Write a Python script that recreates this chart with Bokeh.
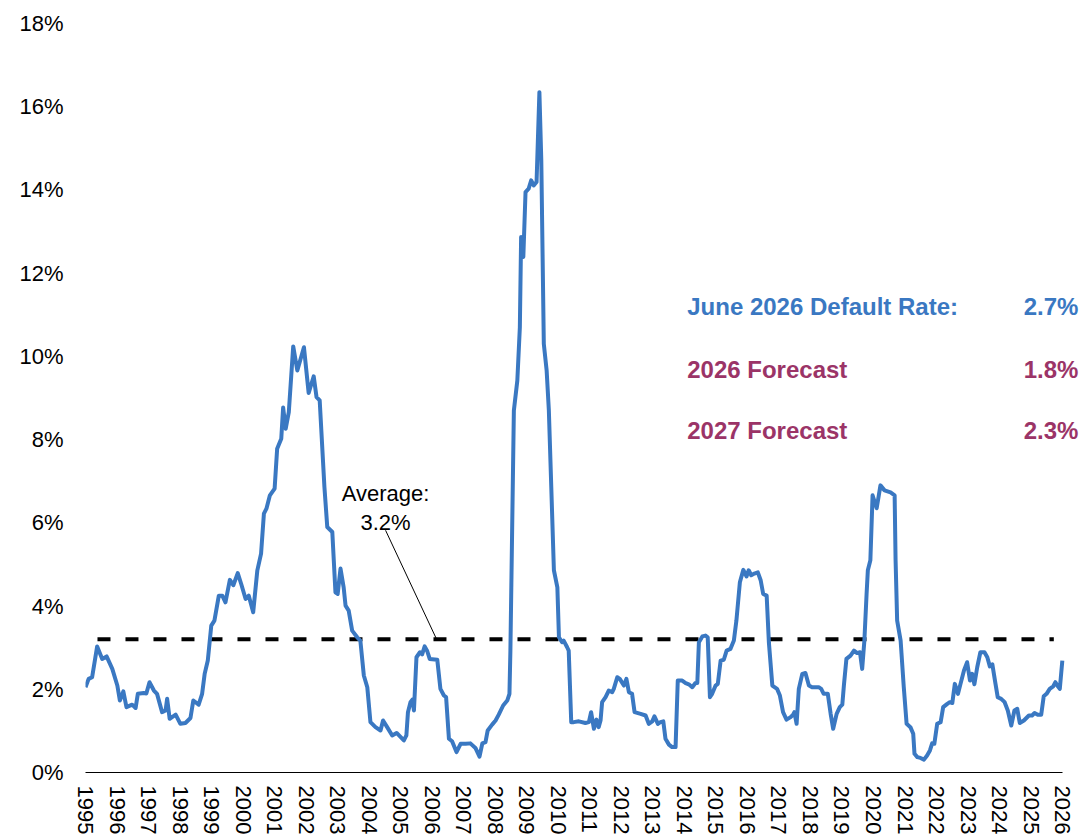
from bokeh.plotting import figure
from bokeh.models import Range1d, FixedTicker, Label
from bokeh.core.properties import value
from bokeh.embed import file_html
from bokeh.resources import INLINE

# ---- data (decimal year, default rate %) ----
years = [1995.00, 1995.10, 1995.21, 1995.37, 1995.53, 1995.67, 1995.85, 1996.01, 1996.09, 1996.20,
         1996.30, 1996.48, 1996.59, 1996.66, 1996.85, 1996.93, 1997.03, 1997.17, 1997.27, 1997.43,
         1997.54, 1997.59, 1997.67, 1997.86, 1998.01, 1998.17, 1998.33, 1998.42, 1998.59, 1998.70,
         1998.78, 1998.88, 1998.99, 1999.09, 1999.23, 1999.34, 1999.44, 1999.58, 1999.69, 1999.83,
         1999.94, 2000.08, 2000.18, 2000.32, 2000.45, 2000.57, 2000.66, 2000.74, 2000.85, 2001.00,
         2001.08, 2001.21, 2001.27, 2001.35, 2001.45, 2001.59, 2001.72, 2001.93, 2002.08, 2002.24,
         2002.33, 2002.43, 2002.58, 2002.67, 2002.83, 2002.93, 2003.00, 2003.09, 2003.19, 2003.25,
         2003.35, 2003.46, 2003.62, 2003.72, 2003.83, 2003.94, 2004.04, 2004.20, 2004.36, 2004.44,
         2004.57, 2004.73, 2004.87, 2005.10, 2005.18, 2005.23, 2005.31, 2005.37, 2005.42, 2005.50,
         2005.61, 2005.68, 2005.76, 2005.84, 2005.92, 2006.16, 2006.26, 2006.37, 2006.44, 2006.53,
         2006.63, 2006.77, 2006.90, 2007.06, 2007.21, 2007.37, 2007.50, 2007.59, 2007.69, 2007.76,
         2007.90, 2008.01, 2008.11, 2008.25, 2008.38, 2008.45, 2008.48, 2008.59, 2008.70, 2008.78,
         2008.82, 2008.89, 2008.96, 2009.06, 2009.14, 2009.22, 2009.31, 2009.40, 2009.46, 2009.54,
         2009.63, 2009.70, 2009.86, 2009.97, 2010.02, 2010.12, 2010.17, 2010.28, 2010.33, 2010.41,
         2010.49, 2010.65, 2010.86, 2010.97, 2011.04, 2011.13, 2011.21, 2011.28, 2011.34, 2011.39,
         2011.50, 2011.60, 2011.71, 2011.76, 2011.87, 2011.95, 2012.08, 2012.16, 2012.24, 2012.34,
         2012.42, 2012.61, 2012.77, 2012.87, 2012.98, 2013.05, 2013.16, 2013.24, 2013.33, 2013.40,
         2013.51, 2013.61, 2013.72, 2013.79, 2013.93, 2014.04, 2014.14, 2014.25, 2014.35, 2014.41,
         2014.46, 2014.57, 2014.67, 2014.74, 2014.81, 2014.88, 2014.99, 2015.06, 2015.15, 2015.25,
         2015.34, 2015.46, 2015.57, 2015.65, 2015.76, 2015.87, 2015.97, 2016.04, 2016.12, 2016.22,
         2016.33, 2016.42, 2016.50, 2016.61, 2016.68, 2016.79, 2016.94, 2017.03, 2017.13, 2017.24,
         2017.37, 2017.45, 2017.49, 2017.56, 2017.63, 2017.74, 2017.84, 2017.95, 2018.05, 2018.26,
         2018.34, 2018.42, 2018.55, 2018.64, 2018.72, 2018.83, 2018.93, 2019.01, 2019.06, 2019.14,
         2019.27, 2019.38, 2019.48, 2019.57, 2019.64, 2019.71, 2019.78, 2019.82, 2019.90, 2019.97,
         2020.10, 2020.22, 2020.35, 2020.54, 2020.67, 2020.70, 2020.75, 2020.86, 2020.96, 2021.05,
         2021.17, 2021.26, 2021.30, 2021.39, 2021.49, 2021.60, 2021.70, 2021.79, 2021.86, 2021.93,
         2022.02, 2022.13, 2022.21, 2022.34, 2022.42, 2022.50, 2022.58, 2022.68, 2022.76, 2022.87,
         2022.97, 2023.06, 2023.13, 2023.20, 2023.29, 2023.39, 2023.52, 2023.61, 2023.69, 2023.77,
         2023.87, 2023.94, 2024.05, 2024.16, 2024.26, 2024.37, 2024.47, 2024.56, 2024.64, 2024.77,
         2024.93, 2025.03, 2025.11, 2025.21, 2025.32, 2025.40, 2025.49, 2025.59, 2025.70, 2025.77,
         2025.83, 2025.91, 2025.99]

rates = [2.05, 2.25, 2.29, 3.03, 2.73, 2.79, 2.49, 2.09, 1.73, 1.95,
         1.57, 1.63, 1.55, 1.89, 1.91, 1.90, 2.17, 1.97, 1.89, 1.45,
         1.49, 1.77, 1.29, 1.39, 1.17, 1.19, 1.31, 1.73, 1.63, 1.89,
         2.37, 2.69, 3.53, 3.65, 4.25, 4.25, 4.09, 4.63, 4.50, 4.79,
         4.53, 4.17, 4.25, 3.85, 4.85, 5.26, 6.22, 6.34, 6.66, 6.82,
         7.78, 8.02, 8.77, 8.26, 8.66, 10.24, 9.66, 10.22, 9.12, 9.52,
         9.02, 8.94, 6.86, 5.90, 5.78, 4.33, 4.29, 4.90, 4.45, 4.01,
         3.89, 3.41, 3.25, 3.17, 2.33, 2.05, 1.21, 1.09, 1.01, 1.25,
         1.09, 0.89, 0.95, 0.77, 0.89, 1.45, 1.69, 1.75, 1.49, 2.77,
         2.89, 2.84, 3.03, 2.92, 2.73, 2.71, 2.01, 1.85, 1.81, 0.81,
         0.75, 0.49, 0.69, 0.69, 0.70, 0.59, 0.38, 0.70, 0.73, 1.01,
         1.15, 1.25, 1.39, 1.61, 1.73, 1.89, 2.93, 8.70, 9.42, 10.70,
         12.87, 12.39, 13.95, 14.03, 14.23, 14.11, 14.19, 16.35, 14.71, 10.30,
         9.66, 8.70, 4.86, 4.45, 3.25, 3.13, 3.17, 3.01, 2.93, 1.21,
         1.21, 1.23, 1.19, 1.21, 1.45, 1.05, 1.27, 1.09, 1.25, 1.69,
         1.81, 1.97, 1.93, 2.01, 2.29, 2.25, 2.09, 2.25, 1.93, 1.89,
         1.45, 1.41, 1.37, 1.17, 1.23, 1.35, 1.17, 1.21, 1.23, 0.81,
         0.67, 0.61, 0.61, 2.21, 2.21, 2.15, 2.12, 2.05, 2.15, 2.15,
         3.13, 3.27, 3.29, 3.25, 1.81, 1.89, 2.09, 2.13, 2.69, 2.71,
         2.93, 2.97, 3.17, 3.65, 4.57, 4.87, 4.71, 4.86, 4.74, 4.78,
         4.81, 4.62, 4.29, 4.25, 3.13, 2.09, 2.01, 1.85, 1.45, 1.27,
         1.33, 1.39, 1.45, 1.17, 2.01, 2.37, 2.39, 2.09, 2.05, 2.05,
         2.01, 1.89, 1.89, 1.41, 1.05, 1.41, 1.57, 1.63, 2.09, 2.73,
         2.81, 2.93, 2.87, 2.89, 2.49, 3.17, 4.29, 4.86, 5.10, 6.66,
         6.35, 6.90, 6.78, 6.73, 6.66, 5.10, 3.65, 3.17, 2.05, 1.17,
         1.09, 0.93, 0.45, 0.37, 0.35, 0.31, 0.41, 0.53, 0.70, 0.69,
         1.17, 1.21, 1.57, 1.65, 1.69, 1.67, 2.13, 1.89, 2.13, 2.45,
         2.65, 2.21, 2.37, 2.12, 2.53, 2.89, 2.89, 2.77, 2.55, 2.60,
         2.13, 1.81, 1.77, 1.69, 1.49, 1.13, 1.49, 1.53, 1.19, 1.25,
         1.37, 1.37, 1.43, 1.39, 1.39, 1.83, 1.89, 2.01, 2.07, 2.17,
         2.09, 2.01, 2.69]

avg_rate = 3.2
avg_span = [1995.38, 2025.72]
avg_text = ["Average:", "3.2%"]

tick_years = list(range(1995, 2027))
tick_labels = [str(y) for y in tick_years]
y_ticks = [0, 2, 4, 6, 8, 10, 12, 14, 16, 18]
y_labels = [f"{v}%" for v in y_ticks]

summary_labels = ["June 2026 Default Rate:", "2026 Forecast", "2027 Forecast"]
summary_values = ["2.7%", "1.8%", "2.3%"]
summary_colors = ["#3A78C2", "#9B3467", "#9B3467"]

FONT = "Liberation Sans"
BLUE = "#3A78C2"

p = figure(width=1084, height=839, x_range=Range1d(1995, 2026.63), y_range=Range1d(0, 18),
           output_backend="svg", toolbar_location=None,
           min_border_left=85, min_border_right=2, min_border_top=23, min_border_bottom=67)
p.outline_line_color = None
p.grid.visible = False
p.background_fill_color = "white"
p.border_fill_color = "white"

# average dashed line
p.line(avg_span, [avg_rate, avg_rate], line_color="black", line_width=4, line_dash="13 15")

# default rate line
p.line(years, rates, line_color=BLUE, line_width=4, line_join="round")

# average annotation
p.line([2004.52, 2006.14], [5.82, avg_rate], line_color="black", line_width=1)
p.text(x=[2004.52, 2004.52], y=[6.71, 6.01], text=avg_text, text_align="center",
       text_baseline="alphabetic", text_font=value(FONT), text_font_size="22px", text_color="black")

# summary texts
summary_y = [11.19, 9.69, 8.22]
for lab, val, col, yy in zip(summary_labels, summary_values, summary_colors, summary_y):
    p.add_layout(Label(x=2014.09, y=yy, text=lab, text_align="left", text_baseline="alphabetic",
                       text_font=FONT, text_font_size="24px", text_font_style="bold", text_color=col))
    p.add_layout(Label(x=2026.50, y=yy, text=val, text_align="right", text_baseline="alphabetic",
                       text_font=FONT, text_font_size="24px", text_font_style="bold", text_color=col))

# axes
xa = p.xaxis[0]
xa.bounds = (1995, 2026)
xa.ticker = FixedTicker(ticks=tick_years)
xa.major_label_overrides = {y: l for y, l in zip(tick_years, tick_labels)}
xa.major_label_orientation = "vertical"
xa.major_label_text_font = FONT
xa.major_label_text_font_size = "22px"
xa.major_label_text_color = "black"
xa.axis_line_color = "black"
xa.axis_line_width = 1
xa.major_tick_line_color = None
xa.minor_tick_line_color = None
xa.major_tick_out = 0
xa.major_tick_in = 0
xa.major_label_standoff = 13

ya = p.yaxis[0]
ya.ticker = FixedTicker(ticks=y_ticks)
ya.major_label_overrides = {v: l for v, l in zip(y_ticks, y_labels)}
ya.major_label_text_font = FONT
ya.major_label_text_font_size = "22px"
ya.major_label_text_color = "black"
ya.axis_line_color = None
ya.major_tick_line_color = None
ya.minor_tick_line_color = None
ya.major_tick_out = 0
ya.major_tick_in = 0
ya.major_label_standoff = 22

open("out.html", "w").write(file_html(p, INLINE))
